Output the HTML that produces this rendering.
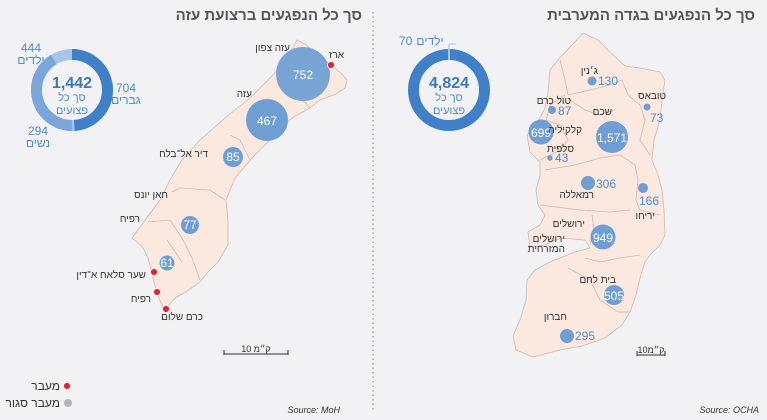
<!DOCTYPE html>
<html><head><meta charset="utf-8">
<style>
html,body{margin:0;padding:0;background:#f2f2f4;}
svg{display:block;font-family:"Liberation Sans","Noto Sans CJK JP",sans-serif;}
.t{font-size:10px;fill:#333;}
.n{fill:#fff;font-size:12px;text-anchor:middle;}
.b{fill:#4d8ccd;}
</style></head><body>
<svg width="767" height="420" viewBox="0 0 767 420">
<rect width="767" height="420" fill="#f2f2f4"/>
<line x1="373" y1="12" x2="373" y2="412" stroke="#999" stroke-width="1.2" stroke-dasharray="1.5 3"/>
<text x="362" y="20" text-anchor="end" font-size="15" font-weight="bold" fill="#555">סך כל הנפגעים ברצועת עזה</text>
<text x="755" y="20" text-anchor="end" font-size="15" font-weight="bold" fill="#555">סך כל הנפגעים בגדה המערבית</text>

<!-- Gaza map -->
<path d="M297,40 L305,44 L318,55 L332,66 L342,74 L347,80 L345,88 L336,94 L320,100 L310,108 L292,118 L272,138 L252,158 L235,178 L226,200 L228,222 L228,245 L218,262 L208,272 L200,282 L186,292 L175,298 L168,306 L164,310 L158,296 L153,278 L148,258 L142,246 L132,238 L145,220 L160,200 L170,180 L182,160 L200,140 L225,118 L250,98 L272,76 L288,58 Z" fill="#fbe8df" stroke="#c9bbb4" stroke-width="0.8"/>
<path d="M310,108 L305,102 L300,100 M250,160 L240,140 L230,135 M225,200 L210,190 L180,188 L172,192 M148,222 L170,220 L182,238 L192,258 L200,280 M167,240 L182,262" fill="none" stroke="#c9bbb4" stroke-width="0.8"/>
<circle cx="303" cy="74" r="27" fill="#6e9ed4" opacity="0.92"/>
<text class="n" x="303" y="79" font-size="13">752</text>
<circle cx="267" cy="120" r="21" fill="#6e9ed4"/>
<text class="n" x="267" y="125" font-size="13">467</text>
<circle cx="233" cy="157" r="10" fill="#6e9ed4"/>
<text class="n" x="233" y="161">85</text>
<circle cx="190" cy="225" r="9" fill="#6e9ed4"/>
<text class="n" x="190" y="229">77</text>
<circle cx="167" cy="263" r="7.5" fill="#6e9ed4"/>
<text class="n" x="167" y="267" font-size="11">61</text>
<g fill="#e8222e" stroke="#fff" stroke-width="0.8">
<circle cx="331" cy="65" r="3.5"/><circle cx="154" cy="272" r="3.5"/><circle cx="157" cy="292" r="3.5"/><circle cx="166" cy="309" r="3.5"/>
<circle cx="67" cy="386" r="3.5"/>
</g>
<circle cx="68" cy="403" r="4" fill="#b5b5b5"/>
<g class="t" text-anchor="end">
<text x="290" y="51">עזה צפון</text>
<text x="344" y="58">ארז</text>
<text x="252" y="97">עזה</text>
<text x="208" y="157">דיר אל־בלח</text>
<text x="168" y="198">חאן יונס</text>
<text x="140" y="222">רפיח</text>
<text x="146" y="278">שער סלאח א־דין</text>
<text x="151" y="302">רפיח</text>
<text x="203" y="320">כרם שלום</text>
<text x="60" y="390" font-size="12" fill="#333">מעבר</text>
<text x="60" y="407" font-size="12" fill="#333">מעבר סגור</text>
</g>
<line x1="224" y1="354" x2="288" y2="354" stroke="#333"/>
<line x1="224" y1="350" x2="224" y2="355" stroke="#333"/><line x1="288" y1="350" x2="288" y2="355" stroke="#333"/>
<text x="256" y="352" text-anchor="middle" font-size="9" fill="#333">10 ק״מ</text>
<text x="340" y="413" text-anchor="end" font-size="9" font-style="italic" fill="#333">Source: MoH</text>

<!-- Gaza donut -->
<circle cx="72" cy="90" r="35.5" fill="none" stroke="#a8c5e8" stroke-width="11"/>
<circle cx="72" cy="90" r="35.5" fill="none" stroke="#7aa6da" stroke-width="11" stroke-dasharray="92 1000" stroke-dashoffset="-111.5" transform="rotate(-90 72 90)"/>
<circle cx="72" cy="90" r="35.5" fill="none" stroke="#3f80c8" stroke-width="11" stroke-dasharray="109 1000" transform="rotate(-90 72 90)"/>
<text x="72" y="88" text-anchor="middle" font-size="16" font-weight="bold" fill="#3a78c2">1,442</text>
<text x="72" y="101" text-anchor="middle" font-size="11" class="b">סך כל</text>
<text x="72" y="114" text-anchor="middle" font-size="11" class="b">פצועים</text>
<g class="b" text-anchor="middle" font-size="12">
<text x="31" y="52">444</text><text x="31" y="64">ילדים</text>
<text x="126" y="92">704</text><text x="126" y="104">גברים</text>
<text x="38" y="135">294</text><text x="38" y="147">נשים</text>
</g>

<!-- WB donut -->
<circle cx="449" cy="90" r="35.5" fill="none" stroke="#3f80c8" stroke-width="11"/>
<rect x="448" y="49" width="2" height="11" fill="#a8c5e8"/>
<path d="M449,49 V44 H456" fill="none" stroke="#a8c5e8"/>
<text x="430" y="45" text-anchor="middle" font-size="12" class="b">ילדים</text>
<text x="399" y="45" text-anchor="start" font-size="12" class="b">70</text>
<text x="449" y="88" text-anchor="middle" font-size="16" font-weight="bold" fill="#3a78c2">4,824</text>
<text x="449" y="101" text-anchor="middle" font-size="11" class="b">סך כל</text>
<text x="449" y="114" text-anchor="middle" font-size="11" class="b">פצועים</text>

<!-- West Bank map -->
<path d="M583,33 L598,40 L610,52 L625,66 L640,68 L660,72 L665,80 L662,100 L660,120 L654,140 L652,160 L658,175 L662,190 L664,210 L665,235 L660,245 L650,255 L645,262 L640,278 L636,295 L630,312 L622,325 L605,338 L582,346 L560,350 L533,357 L516,350 L513,336 L520,320 L526,300 L527,280 L535,270 L550,262 L575,252 L590,248 L585,240 L560,238 L545,245 L530,247 L528,232 L540,225 L545,215 L538,205 L536,190 L540,176 L540,162 L530,152 L527,135 L538,122 L545,108 L548,92 L550,70 L558,60 L572,45 Z" fill="#fbe8df" stroke="#c9bbb4" stroke-width="0.8"/>
<path d="M560,60 L565,80 L568,95 L590,90 L610,85 L622,80 M622,80 L628,95 L640,105 L645,120 L640,140 L650,155 M565,95 L550,105 L545,125 M570,100 L585,110 L600,115 L615,110 M545,120 L560,125 L568,140 L560,150 L540,160 M545,170 L575,165 L600,158 L620,155 L635,165 L638,180 L636,200 L640,210 L660,215 M540,205 L580,210 L610,212 L630,210 M592,215 L594,230 L590,245 M585,258 L600,262 L620,258 L640,255 M568,268 L590,280 L600,300 L618,312 L630,312" fill="none" stroke="#c9bbb4" stroke-width="0.8"/>
<g fill="#6e9ed4">
<circle cx="592" cy="81" r="4.5"/><circle cx="552" cy="110" r="4"/><circle cx="541" cy="132" r="12.5"/>
<circle cx="612" cy="137" r="16"/><circle cx="647" cy="107" r="3.5"/><circle cx="550" cy="158" r="2.7"/>
<circle cx="588" cy="183" r="7"/><circle cx="643" cy="188" r="5"/><circle cx="603" cy="237" r="12.5"/>
<circle cx="614" cy="295" r="10"/><circle cx="567" cy="336" r="7"/>
</g>
<text class="n" x="541" y="137" font-size="12">699</text>
<text class="n" x="612" y="142" font-size="12">1,571</text>
<text class="n" x="603" y="242" font-size="12">949</text>
<text class="n" x="614" y="300" font-size="12">505</text>
<g class="b" font-size="12">
<text x="598" y="85">130</text><text x="558" y="115">87</text><text x="650" y="122">73</text>
<text x="555" y="162">43</text><text x="596" y="188">306</text><text x="639" y="205">166</text>
<text x="575" y="340">295</text>
</g>
<g class="t" text-anchor="end">
<text x="598" y="74">ג׳נין</text>
<text x="666" y="99">טובאס</text>
<text x="571" y="104">טול כרם</text>
<text x="612" y="115">שכם</text>
<text x="582" y="133">קלקיליה</text>
<text x="574" y="152">סלפית</text>
<text x="594" y="198">רמאללה</text>
<text x="655" y="219">יריחו</text>
<text x="585" y="227">ירושלים</text>
<text x="565" y="242">ירושלים</text>
<text x="565" y="252">המזרחית</text>
<text x="616" y="283">בית לחם</text>
<text x="567" y="320">חברון</text>
</g>
<line x1="637" y1="355" x2="665" y2="355" stroke="#333"/>
<line x1="637" y1="351" x2="637" y2="356" stroke="#333"/><line x1="665" y1="351" x2="665" y2="356" stroke="#333"/>
<text x="651" y="353" text-anchor="middle" font-size="9" fill="#333">10ק״מ</text>
<text x="759" y="413" text-anchor="end" font-size="9" font-style="italic" fill="#333">Source: OCHA</text>
</svg>
</body></html>
